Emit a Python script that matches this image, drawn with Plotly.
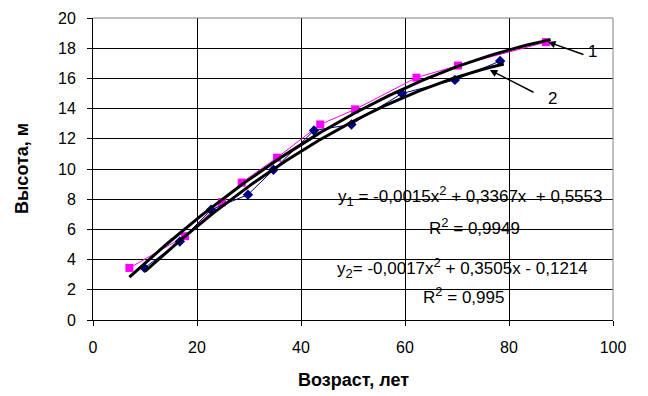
import numpy as np
import plotly.graph_objects as go

# Series 1 (magenta squares)
age1 = [7, 17.7, 24.8, 28.6, 35.4, 43.7, 50.4, 62.2, 70.2, 87.1]
h1 = [3.45, 5.55, 7.8, 9.1, 10.75, 12.95, 13.95, 16.05, 16.85, 18.4]
# Series 2 (navy diamonds)
age2 = [9.9, 16.7, 22.7, 29.8, 34.7, 42.5, 49.7, 59.4, 69.6, 78.3]
h2 = [3.45, 5.2, 7.3, 8.3, 9.95, 12.55, 12.95, 15.0, 15.9, 17.15]

# Trendline coefficients (as printed on the chart) and their spans
coef1 = [-0.0015, 0.3367, 0.5553]
coef2 = [-0.0017, 0.3505, -0.1214]
span1 = [7, 88]
span2 = [10, 79]

x_ticks = [0, 20, 40, 60, 80, 100]
y_ticks = list(range(0, 21, 2))

FONT = "Liberation Sans, Arial, sans-serif"

fig = go.Figure()

xt1 = np.linspace(span1[0], span1[1], 100)
xt2 = np.linspace(span2[0], span2[1], 100)
fig.add_trace(go.Scatter(x=age1, y=h1, mode="lines+markers",
                         line=dict(color="#FF00FF", width=1),
                         marker=dict(symbol="square", size=8, color="#FF00FF"),
                         showlegend=False))
fig.add_trace(go.Scatter(x=age2, y=h2, mode="lines+markers",
                         line=dict(color="#000080", width=1),
                         marker=dict(symbol="diamond", size=8, color="#000080"),
                         showlegend=False))
fig.add_trace(go.Scatter(x=xt1, y=np.polyval(coef1, xt1), mode="lines",
                         line=dict(color="black", width=3), showlegend=False))
fig.add_trace(go.Scatter(x=xt2, y=np.polyval(coef2, xt2), mode="lines",
                         line=dict(color="black", width=3), showlegend=False))

SUP = "<sup><span style='font-size:13px'>2</span></sup>"
annots = [
    dict(x=72.5, y=8.2, text="y<sub><span style='font-size:13px'>1</span></sub> = -0,0015x" + SUP + " + 0,3367x  + 0,5553"),
    dict(x=73.3, y=6.2, text="R" + SUP + " = 0,9949"),
    dict(x=71.0, y=3.44, text="y<sub><span style='font-size:13px'>2</span></sub>= -0,0017x" + SUP + " + 0,3505x - 0,1214"),
    dict(x=71.3, y=1.6, text="R" + SUP + " = 0,995"),
]
for a in annots:
    fig.add_annotation(x=a["x"], y=a["y"], text=a["text"], showarrow=False,
                       font=dict(family=FONT, size=17, color="black"),
                       xanchor="center", yanchor="middle")

# Arrow labels
fig.add_annotation(x=87.5, y=18.41, ax=94.6, ay=17.55, axref="x", ayref="y",
                   text="", showarrow=True, arrowhead=2, arrowsize=1, arrowwidth=1.5,
                   arrowcolor="black")
fig.add_annotation(x=96.0, y=17.75, text="1", showarrow=False,
                   font=dict(family=FONT, size=17, color="black"))
fig.add_annotation(x=76.3, y=16.56, ax=85.0, ay=15.03, axref="x", ayref="y",
                   text="", showarrow=True, arrowhead=2, arrowsize=1, arrowwidth=1.5,
                   arrowcolor="black")
fig.add_annotation(x=88.3, y=14.7, text="2", showarrow=False,
                   font=dict(family=FONT, size=17, color="black"))

# Axis titles
fig.add_annotation(xref="paper", yref="paper", x=0.5, y=0, yshift=-60,
                   text="<b>Возраст, лет</b>", showarrow=False,
                   xanchor="center", yanchor="middle",
                   font=dict(family=FONT, size=18, color="black"))
fig.add_annotation(xref="paper", yref="paper", x=0, y=0.5, xshift=-71,
                   text="<b>Высота, м</b>", showarrow=False, textangle=-90,
                   xanchor="center", yanchor="middle",
                   font=dict(family=FONT, size=18, color="black"))

# grey top/right border
fig.add_shape(type="line", xref="paper", yref="paper", x0=0, x1=1, y0=1, y1=1,
              line=dict(color="#808080", width=1))
fig.add_shape(type="line", xref="paper", yref="paper", x0=1, x1=1, y0=0, y1=1,
              line=dict(color="#808080", width=1))

fig.update_xaxes(range=[0, 100], tickvals=x_ticks, ticktext=[str(v) for v in x_ticks],
                 showgrid=True, gridcolor="black", gridwidth=1,
                 showline=True, linecolor="black", linewidth=1,
                 ticks="outside", ticklen=5, tickcolor="black",
                 zeroline=False, automargin=False, ticklabelstandoff=8,
                 tickfont=dict(family=FONT, size=16, color="black"))
fig.update_yaxes(range=[0, 20], tickvals=y_ticks, ticktext=[str(v) for v in y_ticks],
                 showgrid=True, gridcolor="black", gridwidth=1,
                 showline=True, linecolor="black", linewidth=1,
                 ticks="outside", ticklen=5, tickcolor="black",
                 zeroline=False, automargin=False, ticklabelstandoff=8,
                 tickfont=dict(family=FONT, size=16, color="black"))

# page body has an 8px margin, so the figure is sized to fit the window
fig.update_layout(width=640, height=388, plot_bgcolor="white", paper_bgcolor="white",
                  margin=dict(l=85, r=35, t=10, b=76, autoexpand=False),
                  font=dict(family=FONT))

fig.write_html("out.html")
